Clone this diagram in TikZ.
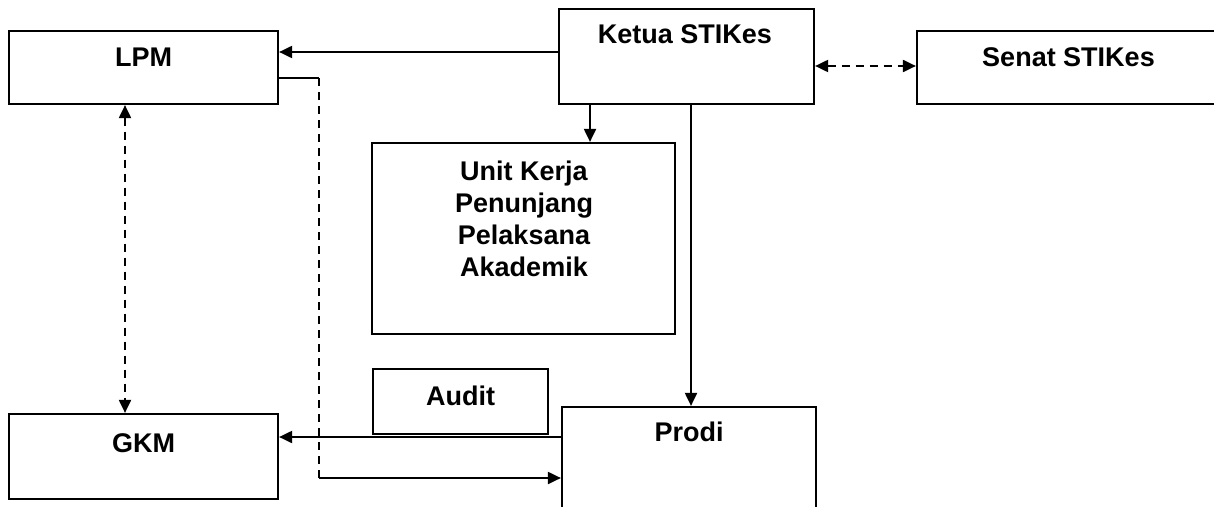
\documentclass[tikz,border=0pt]{standalone}
\usepackage{fontspec}
\setmainfont{Liberation Sans}
\usepackage{tikz}
\usetikzlibrary{arrows.meta,calc,positioning}

\begin{document}
\begin{tikzpicture}
[x=1pt, y=-1pt, line width=2pt,
 box/.style={draw, rectangle, inner sep=0pt, line width=2.2pt},
 txt/.style={font=\fontsize{27}{32}\selectfont\bfseries, align=center,
   inner sep=0pt, text height=19pt, text depth=0pt},
 arr/.style={-{Triangle[length=13pt,width=12pt]}},
 darr/.style={{Triangle[length=13pt,width=12pt]}-{Triangle[length=13pt,width=12pt]},
   dash pattern=on 8pt off 6pt}]

\useasboundingbox (0,0) rectangle (1214,506);

\node (lpm) at (143.5,67.5)[box, minimum width=269pt, minimum height=73pt] {};
\node (ketua) at (686.5,56.5)[box, minimum width=255pt, minimum height=95pt] {};
\node (senat) at (1068.5,67.5)[box, minimum width=303pt, minimum height=73pt] {};
\node (unit) at (523.5,238.5)[box, minimum width=303pt, minimum height=191pt] {};
\node (audit) at (460.5,401.5)[box, minimum width=175pt, minimum height=65pt] {};
\node (gkm) at (143.5,456.5)[box, minimum width=269pt, minimum height=85pt] {};
\node (prodi) at (689,459.5)[box, minimum width=254pt, minimum height=105pt] {};

\node (lpmtxt) at (143.5,57)[txt] {LPM};
\node (ketuatxt) at (685,34)[txt] {Ketua STIKes};
\node (senattxt) at (1068.5,56.5)[txt] {Senat STIKes};
\node (unittxt) at (524,267)[txt] {Unit Kerja\\Penunjang\\Pelaksana\\Akademik};
\node (audittxt) at (460.5,395.5)[txt] {Audit};
\node (gkmtxt) at (143.5,443)[txt] {GKM};
\node (prodittxt) at (689,432)[txt] {Prodi};

\draw[arr] ([yshift=4.5pt]ketua.west) coordinate (k1) -- (k1 -| lpm.east);
\draw[darr] ([yshift=-9.5pt]ketua.east) coordinate (k2) -- (k2 -| senat.west);
\draw[arr] ([xshift=-96.5pt]ketua.south) coordinate (k3) -- (k3 |- unit.north);
\draw[arr] ([xshift=4.5pt]ketua.south) coordinate (k4) -- (k4 |- prodi.north);

\draw[darr] ([xshift=-18.5pt]lpm.south) coordinate (l1) -- (l1 |- gkm.north);

\coordinate (bend1) at (319,78);
\coordinate (bend2) at (319,478);
\draw (lpm.east |- bend1) -- (bend1);
\draw[dash pattern=on 8pt off 6pt] (bend1) -- (bend2);
\draw[arr] (bend2) -- (bend2 -| prodi.west);

\draw[arr] ([yshift=22.5pt]prodi.west) coordinate (p1) -- (p1 -| gkm.east);

\end{tikzpicture}
\end{document}
